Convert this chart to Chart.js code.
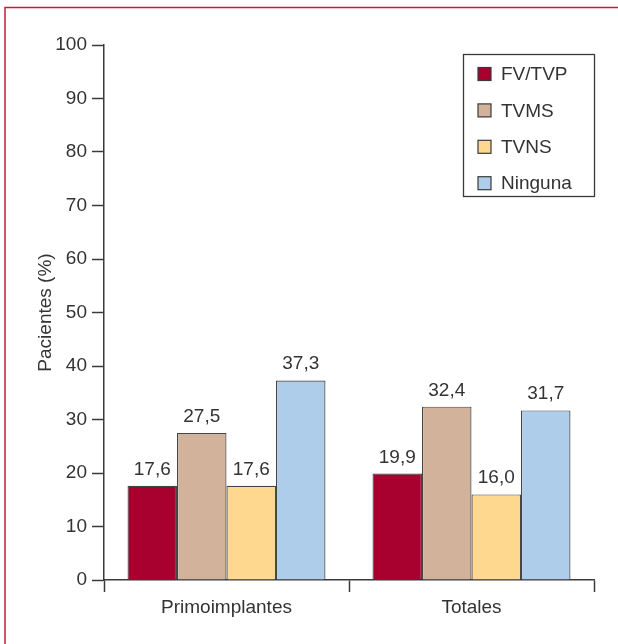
<!DOCTYPE html>
<html>
<head>
<meta charset="utf-8">
<script src="https://cdn.jsdelivr.net/npm/chart.js"></script>
<style>
  html, body { margin: 0; padding: 0; background: #ffffff; }
  canvas { display: block; }
</style>
</head>
<body>
<canvas id="chart" width="618" height="644"></canvas>
<script>
// Arritmias ventriculares por grupo de pacientes
const categories = ['Primoimplantes', 'Totales'];
const seriesNames = ['FV/TVP', 'TVMS', 'TVNS', 'Ninguna'];
const fvTvp = [17.6, 19.9];
const tvms = [27.5, 32.4];
const tvns = [17.6, 16.0];
const ninguna = [37.3, 31.7];
const yTicks = [0, 10, 20, 30, 40, 50, 60, 70, 80, 90, 100];

const seriesColors = ['#a8002f', '#d3b29c', '#fdd88e', '#aecdeb'];
const ink = '#333333';
const lineColor = '#3a3a3a';
const fontFamily = '"Liberation Sans", Arial, sans-serif';
const fontSize = 19;

const fmt = v => v.toFixed(1).replace('.', ',');

// Thin page frame along the top and left edges
const framePlugin = {
  id: 'frame',
  beforeDraw(chart) {
    const ctx = chart.ctx;
    ctx.save();
    ctx.fillStyle = '#ffffff';
    ctx.fillRect(0, 0, chart.width, chart.height);
    ctx.strokeStyle = '#c8193c';
    ctx.lineWidth = 1.5;
    ctx.beginPath();
    ctx.moveTo(5, chart.height);
    ctx.lineTo(5, 7.5);
    ctx.lineTo(chart.width, 7.5);
    ctx.stroke();
    ctx.restore();
  }
};

// Values written above each bar
const valueLabels = {
  id: 'valueLabels',
  afterDatasetsDraw(chart) {
    const ctx = chart.ctx;
    ctx.save();
    ctx.font = fontSize + 'px ' + fontFamily;
    ctx.fillStyle = ink;
    ctx.textAlign = 'center';
    ctx.textBaseline = 'alphabetic';
    chart.data.datasets.forEach((ds, i) => {
      chart.getDatasetMeta(i).data.forEach((bar, j) => {
        ctx.fillText(fmt(ds.data[j]), bar.x, bar.y - 11);
      });
    });
    ctx.restore();
  }
};

// Boxed legend in the upper right of the plot
const boxLegend = {
  id: 'boxLegend',
  afterDraw(chart) {
    const ctx = chart.ctx;
    const area = chart.chartArea;
    const boxW = 131, boxH = 142;
    const bx = area.right - boxW;
    const by = area.top + 9;
    ctx.save();
    ctx.strokeStyle = lineColor;
    ctx.lineWidth = 1.3;
    ctx.strokeRect(bx + 0.5, by + 0.5, boxW, boxH);
    ctx.font = fontSize + 'px ' + fontFamily;
    ctx.textBaseline = 'middle';
    ctx.textAlign = 'left';
    chart.data.datasets.forEach((ds, i) => {
      const cy = by + 20 + i * 36.4;
      const sq = 13;
      ctx.fillStyle = ds.backgroundColor;
      ctx.fillRect(bx + 15, cy - sq / 2, sq, sq);
      ctx.strokeStyle = lineColor;
      ctx.lineWidth = 1.2;
      ctx.strokeRect(bx + 15, cy - sq / 2, sq, sq);
      ctx.fillStyle = ink;
      ctx.fillText(ds.label, bx + 38, cy + 1);
    });
    ctx.restore();
  }
};

const allSeries = [fvTvp, tvms, tvns, ninguna];

new Chart(document.getElementById('chart'), {
  type: 'bar',
  data: {
    labels: categories,
    datasets: allSeries.map((vals, i) => ({
      label: seriesNames[i],
      data: vals,
      backgroundColor: seriesColors[i],
      borderColor: '#454545',
      borderWidth: 1.2,
      categoryPercentage: 0.808,
      barPercentage: 1.0
    }))
  },
  options: {
    responsive: false,
    animation: false,
    devicePixelRatio: 1,
    layout: { padding: { top: 45, right: 24, bottom: 0, left: 34 } },
    plugins: {
      legend: { display: false },
      tooltip: { enabled: false }
    },
    scales: {
      x: {
        type: 'category',
        grid: {
          offset: true,
          drawOnChartArea: false,
          drawTicks: true,
          tickLength: 12,
          tickColor: lineColor,
          tickWidth: 1.5
        },
        border: { display: true, color: lineColor, width: 1.5 },
        ticks: {
          color: ink,
          padding: 4,
          font: { family: fontFamily, size: fontSize }
        },
        afterFit(scale) { scale.height = 64; }
      },
      y: {
        min: 0,
        max: 100,
        afterBuildTicks(scale) { scale.ticks = yTicks.map(v => ({ value: v })); },
        grid: {
          drawOnChartArea: false,
          drawTicks: true,
          tickLength: 12,
          tickColor: lineColor,
          tickWidth: 1.5
        },
        border: { display: true, color: lineColor, width: 1.5 },
        ticks: {
          color: ink,
          padding: 5,
          font: { family: fontFamily, size: fontSize }
        },
        title: {
          display: true,
          text: 'Pacientes (%)',
          color: ink,
          padding: 0,
          font: { family: fontFamily, size: fontSize }
        },
        afterFit(scale) { scale.width = 70; }
      }
    }
  },
  plugins: [framePlugin, valueLabels, boxLegend]
});
</script>
</body>
</html>
